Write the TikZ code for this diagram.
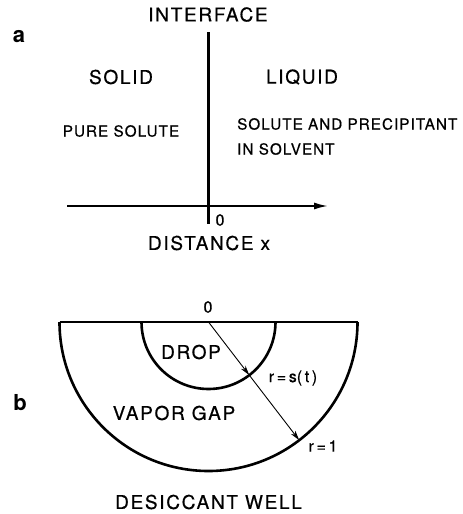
\documentclass[tikz,border=0pt]{standalone}
\usepackage{fontspec}
\setmainfont{TeX Gyre Heros}
\usetikzlibrary{arrows.meta,calc}
\tikzset{
  big/.style={inner sep=0pt, font=\fontsize{19}{22}\selectfont\addfontfeature{LetterSpace=9,FakeBold=0.6}},
  small/.style={inner sep=0pt, font=\fontsize{15.2}{18}\selectfont\addfontfeature{LetterSpace=7,FakeBold=0.6}},
  num/.style={inner sep=0pt, font=\fontsize{16}{18}\selectfont\addfontfeature{FakeBold=0.5}},
  panel/.style={inner sep=0pt, font=\fontsize{22}{24}\selectfont\bfseries},
  thickline/.style={line width=2.6pt},
  axis/.style={line width=1.8pt},
  ray/.style={line width=0.9pt, -{Stealth[length=10pt,width=5.5pt]}},
}
\begin{document}
\begin{tikzpicture}[x=1pt,y=-1pt]
\useasboundingbox (0,0) rectangle (463,514);
% ---------- panel a ----------
\node[panel] (a) at (19,37) {a};
\node[big] (interface) at (208,14.5) {INTERFACE};
\coordinate (itop) at (208.5,32);
\coordinate (ibot) at (208.5,224);
\draw[thickline] (itop) -- (ibot);
\coordinate (xl) at (67,206);
\coordinate (xr) at (328,206);
\draw[axis,-{Latex[length=14pt,width=7pt]}] (xl) -- (xr);
\node[big] (solid) at (121,77) {SOLID};
\node[big] (liquid) at (302,77) {LIQUID};
\node[small] (pure) at (121,131) {PURE SOLUTE};
\node[small,anchor=west] (sap) at (237,124) {SOLUTE AND PRECIPITANT};
\node[small,anchor=west] (insolv) at (237,149) {IN SOLVENT};
\node[num] (zeroa) at (220,220) {0};
\node[big] (dist) at (209,243) {DISTANCE x};
% ---------- panel b ----------
\node[panel] (b) at (20,403) {b};
\coordinate (c) at (208.5,322);
\coordinate (ol) at (59.5,322);
\coordinate (or) at (357.5,322);
\coordinate (il) at (141.5,322);
\draw[thickline] (ol) -- (or);
\draw[thickline] (ol) arc[start angle=180,end angle=0,radius=149];
\draw[thickline] (il) arc[start angle=180,end angle=0,radius=67];
\coordinate (s) at ($(c)+(52.5:67)$);
\coordinate (one) at ($(c)+(52.5:149)$);
\draw[ray] (c) -- (s);
\draw[ray] (s) -- (one);
\node[num] (zerob) at (208,307) {0};
\node[big] (drop) at (191,352) {DROP};
\node[big] (vapor) at (174,413) {VAPOR GAP};
\node[num] (rs) at (293,378) {r\,=\,s(\,t\,)};
\node[num] (r1) at (323,446) {r\,=\,1};
\node[big] (well) at (208.5,502) {DESICCANT WELL};
\end{tikzpicture}
\end{document}
